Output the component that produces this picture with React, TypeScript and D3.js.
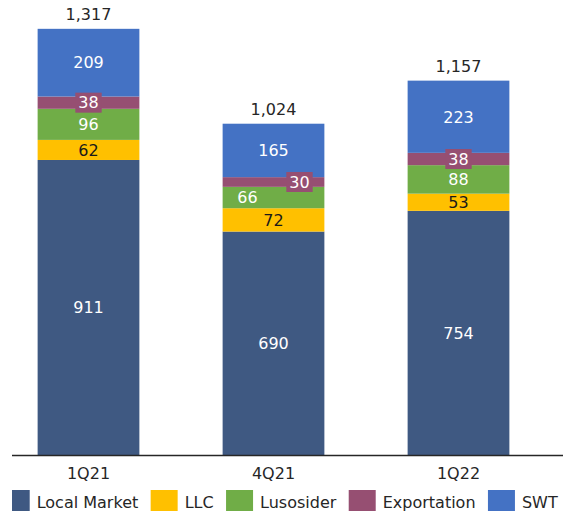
import React from "react";
import * as d3 from "d3";

const categories = ["1Q21", "4Q21", "1Q22"];
const seriesNames = ["Local Market", "LLC", "Lusosider", "Exportation", "SWT"];
const localMarket = [911, 690, 754];
const llc = [62, 72, 53];
const lusosider = [96, 66, 88];
const exportation = [38, 30, 38];
const swt = [209, 165, 223];
const totals = [1317, 1024, 1157];
const totalLabels = ["1,317", "1,024", "1,157"];

const colors = ["#3F5982", "#FFC000", "#70AD47", "#964F72", "#4472C4"];
const labelColors = ["#ffffff", "#1a1a1a", "#ffffff", "#ffffff", "#ffffff"];
// manual label nudges (horizontal, px) to mimic the reference's data label placement
const labelShift: Record<string, number> = { "4Q21|Lusosider": -26, "4Q21|Exportation": 26 };

const W = 563;
const H = 511;
const FONT = "'DejaVu Sans', sans-serif";

export default function App() {
  const seriesValues = [localMarket, llc, lusosider, exportation, swt];
  const rows = categories.map((c, i) => {
    const r: any = { cat: c };
    seriesNames.forEach((s, k) => (r[s] = seriesValues[k][i]));
    return r;
  });
  const stacked = d3.stack<any>().keys(seriesNames)(rows);

  const x = d3
    .scaleBand<string>()
    .domain(categories)
    .range([-4, 551])
    .paddingInner(0.45)
    .paddingOuter(0.225);
  const y = d3.scaleLinear().domain([0, d3.max(totals) as number]).range([455, 28.5]);

  // legend layout
  const sq = 27;
  const gapText = 7;
  const gapItem = 12.4;
  const charW = (s: string) => {
    const m: Record<string, number> = {};
    return s.length;
  };
  const canvas = typeof document !== "undefined" ? document.createElement("canvas") : null;
  const ctx = canvas ? canvas.getContext("2d") : null;
  if (ctx) ctx.font = `16px ${FONT}`;
  const measure = (s: string) => (ctx ? ctx.measureText(s).width : s.length * 9);
  let lx = 36.7 - gapText - sq;
  const legendItems = seriesNames.map((s, i) => {
    const item = { name: s, color: colors[i], sx: lx, tx: lx + sq + gapText };
    lx = item.tx + measure(s) + gapItem;
    return item;
  });

  return (
    <svg
      width={W}
      height={H}
      style={{ position: "absolute", left: 0, top: 0, background: "#fff" }}
      fontFamily={FONT}
    >
      <defs>
        <clipPath id="clipL">
          <rect x={12} y={0} width={W - 12} height={H} />
        </clipPath>
      </defs>
      {stacked.map((layer, k) => (
        <g key={layer.key} fill={colors[k]}>
          {layer.map((d, i) => (
            <rect
              key={i}
              x={x(categories[i])}
              y={y(d[1])}
              width={x.bandwidth()}
              height={y(d[0]) - y(d[1])}
            />
          ))}
        </g>
      ))}
      {stacked.map((layer, k) => (
        <g key={"l" + layer.key}>
          {layer.map((d, i) => {
            const cx =
              (x(categories[i]) as number) +
              x.bandwidth() / 2 +
              (labelShift[categories[i] + "|" + layer.key] || 0);
            const cy = (y(d[0]) + y(d[1])) / 2;
            const txt = String(seriesValues[k][i]);
            const isExp = layer.key === "Exportation";
            const tw = measure(txt);
            return (
              <g key={i}>
                {isExp && (
                  <rect
                    x={cx - tw / 2 - 3}
                    y={cy - 10}
                    width={tw + 6}
                    height={20}
                    fill={colors[k]}
                  />
                )}
                <text
                  x={cx}
                  y={cy}
                  dy="0.36em"
                  textAnchor="middle"
                  fontSize={16}
                  fill={labelColors[k]}
                >
                  {txt}
                </text>
              </g>
            );
          })}
        </g>
      ))}
      {categories.map((c, i) => (
        <text
          key={"t" + c}
          x={(x(c) as number) + x.bandwidth() / 2}
          y={y(totals[i]) - 8.5}
          textAnchor="middle"
          fontSize={16}
          fill="#262626"
        >
          {totalLabels[i]}
        </text>
      ))}
      <line x1={12} x2={W} y1={455.5} y2={455.5} stroke="#262626" strokeWidth={1.3} />
      {categories.map((c) => (
        <text
          key={"c" + c}
          x={(x(c) as number) + x.bandwidth() / 2}
          y={479}
          textAnchor="middle"
          fontSize={16}
          fill="#262626"
        >
          {c}
        </text>
      ))}
      <g clipPath="url(#clipL)">
        {legendItems.map((it) => (
          <g key={"lg" + it.name}>
            <rect x={it.sx} y={490} width={sq} height={sq} fill={it.color} />
            <text x={it.tx} y={507.5} fontSize={16} fill="#262626">
              {it.name}
            </text>
          </g>
        ))}
      </g>
    </svg>
  );
}
